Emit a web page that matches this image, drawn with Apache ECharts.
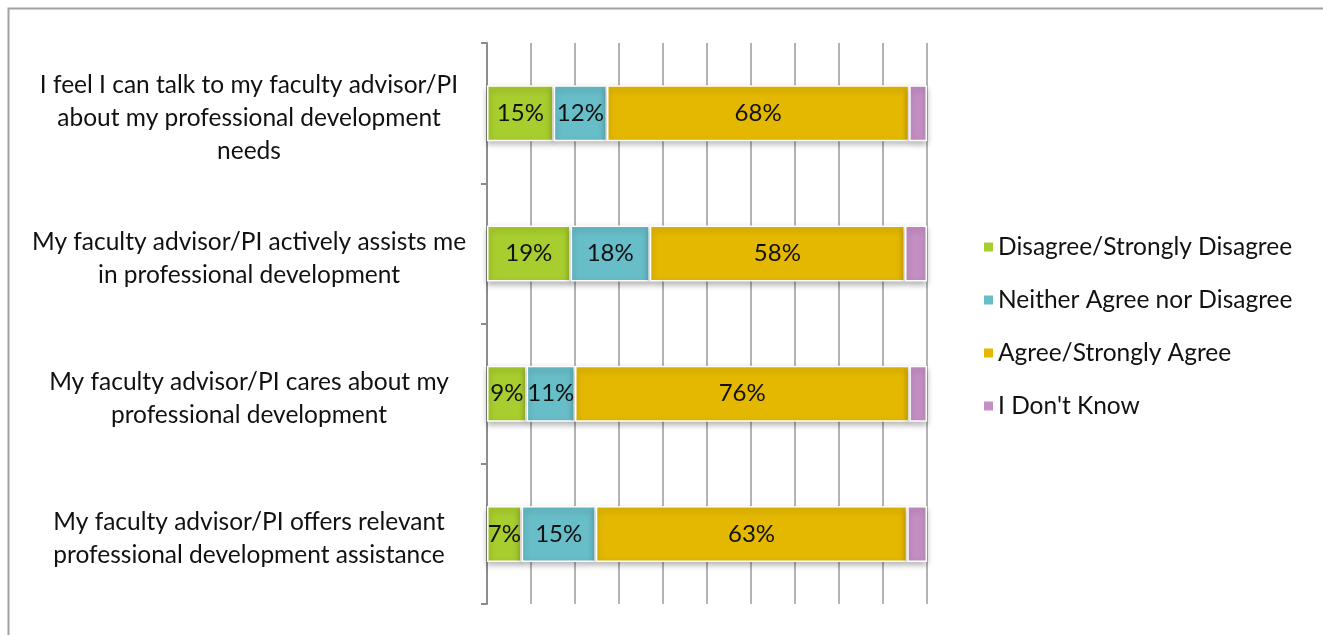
<!DOCTYPE html>
<html><head><meta charset="utf-8">
<script src="https://cdn.jsdelivr.net/npm/echarts@6/dist/echarts.min.js"></script>
<style>html,body{margin:0;padding:0;background:#fff}#c{width:1323px;height:635px}</style>
</head><body><div id="c"></div>
<script>
const categories = [
  "I feel I can talk to my faculty advisor/PI\nabout my professional development\nneeds",
  "My faculty advisor/PI actively assists me\nin professional development",
  "My faculty advisor/PI cares about my\nprofessional development",
  "My faculty advisor/PI offers relevant\nprofessional development assistance"
];
const seriesNames = ["Disagree/Strongly Disagree","Neither Agree nor Disagree","Agree/Strongly Agree","I Don't Know"];
const disagree = [15, 19, 9, 7];
const neither = [12, 18, 11, 15];
const agree = [68, 58, 76, 63];
const dontKnow = [4, 5, 4, 4];
const colors = ["#a8cd2e", "#67bdc8", "#e4b800", "#c48fc3"];
const showLabel = [true, true, true, false];

const raw = [disagree, neither, agree, dontKnow];
const totals = categories.map((_, i) => raw.reduce((s, a) => s + a[i], 0));
const FONT = "Lato, 'Open Sans', sans-serif";

const chart = echarts.init(document.getElementById('c'));
chart.setOption({
  animation: false,
  textStyle: { fontFamily: FONT },
  graphic: [{
    type: 'rect', silent: true, z: -1,
    shape: { x: 8.5, y: 8.5, width: 1400, height: 700 },
    style: { fill: 'none', stroke: '#a0a0a0', lineWidth: 2 }
  }],
  grid: { left: 487, right: 396, top: 43, bottom: 31, containLabel: false },
  legend: {
    orient: 'vertical', left: 977, top: 228,
    itemWidth: 11, itemHeight: 11, itemGap: 25, icon: 'rect',
    textStyle: { fontSize: 24.5, color: '#111', lineHeight: 28, fontFamily: FONT, padding: [0,0,0,-1] },
    data: seriesNames
  },
  xAxis: {
    type: 'value', min: 0, max: 100, interval: 10,
    axisLabel: { show: false }, axisLine: { show: false }, axisTick: { show: false },
    splitLine: { show: true, lineStyle: { color: '#9a9a9a', width: 1.5 } }
  },
  yAxis: {
    type: 'category', inverse: true, data: categories,
    axisLine: { show: true, lineStyle: { color: '#8c8c8c', width: 2 } },
    axisTick: { show: true, length: 6, lineStyle: { color: '#8c8c8c', width: 2 } },
    axisLabel: {
      align: 'center', margin: 238, fontFamily: FONT,
      formatter: v => '{s| }\n' + v.split('\n').map(l => '{t|' + l + '}').join('\n'),
      rich: {
        s: { fontSize: 2, lineHeight: 10 },
        t: { fontSize: 24.5, lineHeight: 33, color: '#111', fontFamily: FONT }
      }
    }
  },
  series: raw.map((arr, si) => ({
    name: seriesNames[si], type: 'bar', stack: 'total', barWidth: 56,
    data: arr.map((v, i) => ({ value: v / totals[i] * 100, raw: v })),
    itemStyle: {
      color: colors[si], borderColor: '#fff', borderWidth: 1.5,
      shadowColor: 'rgba(0,0,0,0.3)', shadowBlur: 6, shadowOffsetY: 3
    },
    label: {
      show: showLabel[si], position: 'inside', fontSize: 24, color: '#111', fontFamily: FONT,
      formatter: p => p.data.raw + '%'
    }
  }))
});
</script></body></html>
